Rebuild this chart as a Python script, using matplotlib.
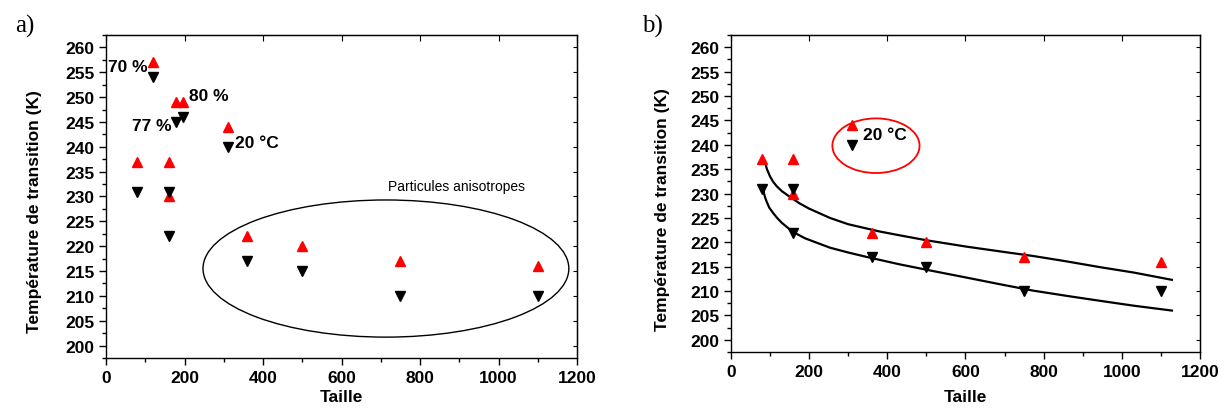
import matplotlib
matplotlib.use("Agg")
import matplotlib.pyplot as plt
from matplotlib.patches import Ellipse
from matplotlib.ticker import MultipleLocator

plt.rcParams['font.family'] = ['Liberation Sans', 'DejaVu Sans']

# Panel a data
a_x_up = [80, 120, 160, 160, 178, 195, 310, 360, 500, 750, 1100]
a_y_up = [237, 257, 237, 230, 249, 249, 244, 222, 220, 217, 216]
a_x_dn = [80, 120, 160, 160, 178, 195, 310, 360, 500, 750, 1100]
a_y_dn = [231, 254, 231, 222, 245, 246, 240, 217, 215, 210, 210]

# Panel b data
b_x_up = [80, 160, 160, 360, 500, 750, 1100, 310]
b_y_up = [237, 237, 230, 222, 220, 217, 216, 244]
b_x_dn = [80, 160, 160, 360, 500, 750, 1100, 310]
b_y_dn = [231, 231, 222, 217, 215, 210, 210, 240]

# Fit curves
fit_up_x = [87, 92, 100, 108, 117, 130, 151, 175, 200, 253, 300, 381, 440,
            501, 603, 700, 772, 850, 944, 1030, 1128]
fit_up_y = [236.5, 235.0, 233.5, 232.4, 231.5, 230.5, 229.3, 228.0, 226.9,
            225.0, 223.7, 222.2, 221.3, 220.4, 219.1, 218.0, 217.2, 216.2,
            214.9, 213.8, 212.3]
fit_dn_x = [83, 87, 91, 98, 108, 118, 130, 145, 159, 190, 253, 300, 347, 430,
            517, 600, 688, 772, 860, 944, 1030, 1128]
fit_dn_y = [230.5, 229.3, 228.4, 227.1, 226.0, 225.0, 224.0, 223.0, 222.1,
            220.8, 218.9, 217.9, 217.0, 215.5, 214.1, 212.8, 211.4, 210.1,
            209.0, 208.0, 207.0, 206.0]

x_ticks = [0, 200, 400, 600, 800, 1000, 1200]
y_ticks = list(range(200, 261, 5))

fig = plt.figure(figsize=(12.26, 4.10), dpi=100)
axA = fig.add_axes([0.0865, 0.1244, 0.3842, 0.7878])
axB = fig.add_axes([0.5962, 0.139, 0.3826, 0.7732])

def style(ax, ylab_xy, xlab_y):
    ax.set_xlim(0, 1200)
    ax.set_ylim(197.5, 262.5)
    ax.set_xticks(x_ticks)
    ax.set_yticks(y_ticks)
    ax.xaxis.set_minor_locator(MultipleLocator(100))
    ax.yaxis.set_minor_locator(MultipleLocator(2.5))
    ax.tick_params(which='major', direction='out', length=5, width=1,
                   labelsize=12.5)
    ax.tick_params(which='minor', direction='out', length=3, width=1)
    for lab in ax.get_xticklabels() + ax.get_yticklabels():
        lab.set_fontweight('bold')
    for s in ax.spines.values():
        s.set_linewidth(1)
    ax.set_xlabel('Taille', fontsize=12.5, fontweight='bold')
    ax.set_ylabel('Température de transition (K)', fontsize=12.5,
                  fontweight='bold')
    ax.yaxis.set_label_coords(*ylab_xy)
    ax.xaxis.set_label_coords(0.5, xlab_y)
    ax.xaxis.label.set_va('center')
    ax.yaxis.label.set_va('center')
    sec = ax.secondary_xaxis('top')
    sec.set_xticks(x_ticks)
    sec.tick_params(direction='in', length=4, labeltop=False)
    sec2 = ax.secondary_yaxis('right')
    sec2.set_yticks(y_ticks)
    sec2.tick_params(direction='in', length=3, labelright=False)

ms = 7
# Panel a
axA.plot(a_x_up, a_y_up, linestyle='none', marker='^', color='red', ms=ms)
axA.plot(a_x_dn, a_y_dn, linestyle='none', marker='v', color='black', ms=ms)
style(axA, (-0.151, 0.458), -0.12)
tk = dict(fontsize=12.5, fontweight='bold', va='center')
axA.text(107, 256.1, '70 %', ha='right', **tk)
axA.text(211, 250.3, '80 %', ha='left', **tk)
axA.text(168, 244.3, '77 %', ha='right', **tk)
axA.text(329, 240.8, '20 °C', ha='left', **tk)
axA.add_patch(Ellipse((713, 215.5), 932, 27.6, fill=False, ec='black', lw=1))
axA.text(892, 232.2, 'Particules anisotropes', fontsize=10, ha='center', va='center')

# Panel b
axB.plot(fit_up_x, fit_up_y, color='black', lw=1.6, solid_joinstyle='round')
axB.plot(fit_dn_x, fit_dn_y, color='black', lw=1.6, solid_joinstyle='round')
axB.plot(b_x_up, b_y_up, linestyle='none', marker='^', color='red', ms=ms)
axB.plot(b_x_dn, b_y_dn, linestyle='none', marker='v', color='black', ms=ms)
style(axB, (-0.145, 0.454), -0.139)
axB.text(338, 242, '20 °C', ha='left', **tk)
axB.add_patch(Ellipse((371, 239.8), 223, 11.2, fill=False, ec='red', lw=1.3))

fig.text(15 / 1226, 1 - 26 / 410, 'a)', fontsize=18, family='Liberation Serif',
         ha='left', va='center')
fig.text(642 / 1226, 1 - 26 / 410, 'b)', fontsize=18, family='Liberation Serif',
         ha='left', va='center')

fig.savefig('out.png', dpi=100)
